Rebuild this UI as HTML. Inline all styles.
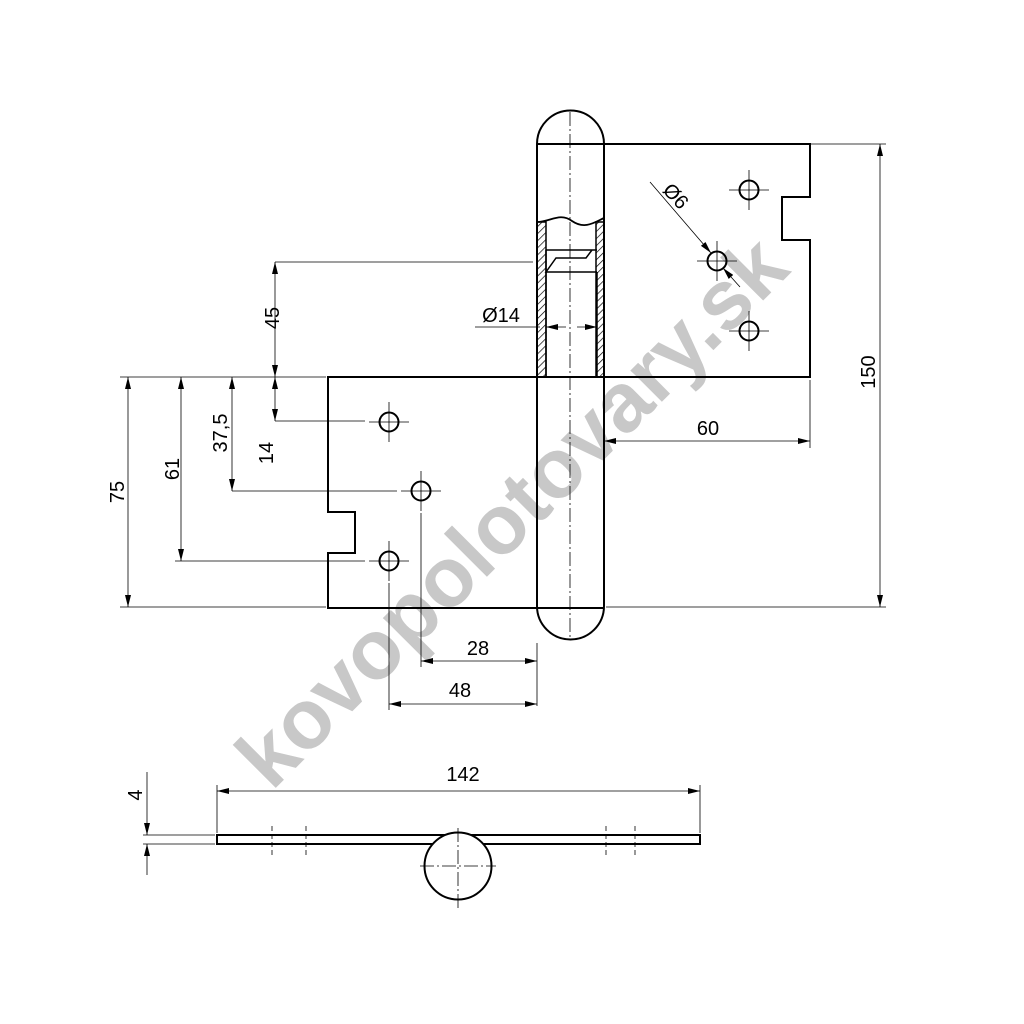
<!DOCTYPE html>
<html><head><meta charset="utf-8"><style>html,body{margin:0;padding:0;background:#fff}svg{display:block}</style></head>
<body>
<svg width="1024" height="1024" viewBox="0 0 1024 1024" xmlns="http://www.w3.org/2000/svg" font-family="Liberation Sans, Arial, sans-serif">
<defs>
<marker id="a" viewBox="0 0 12 6" refX="12" refY="3" markerWidth="12" markerHeight="6" markerUnits="userSpaceOnUse" orient="auto-start-reverse"><path d="M0,0L12,3L0,6z" fill="#000"/></marker>
<pattern id="h" width="5" height="5" patternUnits="userSpaceOnUse" patternTransform="rotate(45)"><line x1="0" y1="0" x2="0" y2="5" stroke="#000" stroke-width="1.4"/></pattern>
</defs>
<rect width="1024" height="1024" fill="#fff"/>
<text x="512" y="512" transform="rotate(-45 512 512)" text-anchor="middle" dy="28" font-size="84" font-weight="bold" fill="#c8c8c8">kovopolotovary.sk</text>
<g fill="none" stroke="#000" stroke-width="2">
<path d="M604,144H810V197H782V240H810V377H604"/>
<path d="M537,377H328V512H355V553H328V608H537"/>
<path d="M537,606V144A33.5,33.5 0 0 1 604,144V606A33.5,33.5 0 0 1 537,606Z"/>
<line x1="537" y1="144" x2="604" y2="144"/>
<line x1="537" y1="377" x2="604" y2="377"/>
<line x1="537" y1="608" x2="604" y2="608"/>
<path d="M537,222C550,222 560,212 572,221C585,230 595,222 604,218" stroke-width="1.8"/>
<rect x="537" y="222" width="9" height="155" fill="url(#h)" stroke-width="1.5"/>
<rect x="596" y="222" width="8" height="155" fill="url(#h)" stroke-width="1.5"/>
<path d="M546,250H597M546,250V272M592,250L586,258H556L546,272H597M546,272V377M597,272V377" stroke-width="1.5"/>
<circle cx="749" cy="190" r="9.5"/><circle cx="717" cy="261" r="9.5"/><circle cx="749" cy="331" r="9.5"/>
<circle cx="389" cy="422" r="9.5"/><circle cx="421" cy="491" r="9.5"/><circle cx="389" cy="561" r="9.5"/>
<rect x="217" y="835" width="483" height="9"/>
<circle cx="458" cy="866" r="33.5" fill="#fff"/>
</g>
<g stroke="#000" stroke-width="0.8" fill="none">
<path d="M729,190h40M749,170v40M697,261h40M717,241v40M729,331h40M749,311v40M369,422h40M389,402v40M401,491h40M421,471v40M369,561h40M389,541v40"/>
<path d="M570,112V640M458,828V910M420,866H496" stroke-dasharray="14,3,2,3"/>
<path d="M272,826V856M306,826V856M606,826V856M635,826V856" stroke-dasharray="5,3"/>
<path d="M275,262H533M275,421H365M232,491H397M175,561H365M120,377H326M120,607H326M810,144H886M606,607H886M810,380V448M421,513V667M389,583V710M537,643V706M217,785V833M700,785V833M143,835H215M143,844H215M475,327H540"/>
<line x1="275" y1="262" x2="275" y2="377" marker-start="url(#a)" marker-end="url(#a)"/>
<line x1="275" y1="377" x2="275" y2="421" marker-start="url(#a)" marker-end="url(#a)"/>
<line x1="232" y1="377" x2="232" y2="491" marker-start="url(#a)" marker-end="url(#a)"/>
<line x1="181" y1="377" x2="181" y2="561" marker-start="url(#a)" marker-end="url(#a)"/>
<line x1="128" y1="377" x2="128" y2="607" marker-start="url(#a)" marker-end="url(#a)"/>
<line x1="880" y1="144" x2="880" y2="607" marker-start="url(#a)" marker-end="url(#a)"/>
<line x1="604" y1="441" x2="810" y2="441" marker-start="url(#a)" marker-end="url(#a)"/>
<line x1="421" y1="661" x2="537" y2="661" marker-start="url(#a)" marker-end="url(#a)"/>
<line x1="389" y1="704" x2="537" y2="704" marker-start="url(#a)" marker-end="url(#a)"/>
<line x1="217" y1="791" x2="700" y2="791" marker-start="url(#a)" marker-end="url(#a)"/>
<line x1="546" y1="327" x2="566" y2="327" marker-start="url(#a)"/>
<line x1="577" y1="327" x2="597" y2="327" marker-end="url(#a)"/>
<line x1="147" y1="772" x2="147" y2="835" marker-end="url(#a)"/>
<line x1="147" y1="875" x2="147" y2="844" marker-end="url(#a)"/>
<line x1="650" y1="182" x2="711" y2="253" marker-end="url(#a)"/>
<line x1="740" y1="287" x2="723" y2="268" marker-end="url(#a)"/>
</g>
<g font-size="20" fill="#000" text-anchor="middle">
<text x="272" y="318" transform="rotate(-90 272 318)" dy="7">45</text>
<text x="266" y="453" transform="rotate(-90 266 453)" dy="7">14</text>
<text x="220" y="433" transform="rotate(-90 220 433)" dy="7">37,5</text>
<text x="172" y="469" transform="rotate(-90 172 469)" dy="7">61</text>
<text x="117" y="492" transform="rotate(-90 117 492)" dy="7">75</text>
<text x="868" y="372" transform="rotate(-90 868 372)" dy="7">150</text>
<text x="135" y="795" transform="rotate(-90 135 795)" dy="7">4</text>
<text x="708" y="435">60</text>
<text x="478" y="655">28</text>
<text x="460" y="697">48</text>
<text x="463" y="781">142</text>
<text x="501" y="322">Ø14</text>
<text x="676" y="196" transform="rotate(47 676 196)" dy="7">Ø6</text>
</g>
</svg>
</body></html>
